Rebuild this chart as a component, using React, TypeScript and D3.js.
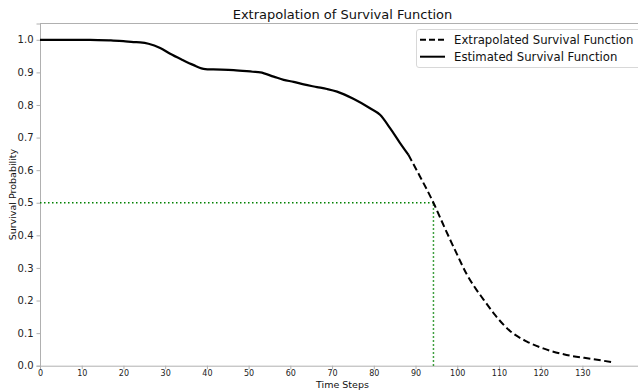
import React, { useEffect, useRef } from 'react';
import * as d3 from 'd3';

// Estimated (observed) survival curve
const estimatedTime = [0, 12, 17, 20, 22.4, 24, 26, 28.8, 31.2, 34, 36.7, 39.6, 41.5, 46.4, 51, 52.8, 56, 58.4, 60.8, 63.2, 66.4, 68.8, 71.2, 75.1, 79.1, 81.5, 83.9, 86.3, 88.3];
const estimatedSurvival = [1.0, 1.0, 0.998, 0.996, 0.993, 0.992, 0.988, 0.975, 0.957, 0.939, 0.923, 0.91, 0.909, 0.907, 0.902, 0.9, 0.887, 0.877, 0.871, 0.863, 0.855, 0.849, 0.841, 0.819, 0.79, 0.77, 0.729, 0.683, 0.647];

// Extrapolated survival curve
const extrapolatedTime = [88.3, 91.1, 94.3, 97.1, 99.9, 102.3, 104.5, 106.3, 109.1, 112.7, 116.7, 120.6, 126.2, 132.7, 137.5];
const extrapolatedSurvival = [0.647, 0.58, 0.5, 0.42, 0.343, 0.28, 0.235, 0.203, 0.155, 0.106, 0.074, 0.053, 0.033, 0.02, 0.01];

const medianTime = 94.3;
const medianSurvival = 0.5;

const xTicks = [0, 10, 20, 30, 40, 50, 60, 70, 80, 90, 100, 110, 120, 130];
const yTicks = [0, 0.1, 0.2, 0.3, 0.4, 0.5, 0.6, 0.7, 0.8, 0.9, 1.0];

const legendLabels = ['Extrapolated Survival Function', 'Estimated Survival Function'];

const WIDTH = 638;
const HEIGHT = 390;

export default function App() {
  const svgRef = useRef<SVGSVGElement>(null);

  useEffect(() => {
    if (!svgRef.current) return;
    const svg = d3.select(svgRef.current);
    svg.selectAll('*').remove();

    const font = 'DejaVu Sans, sans-serif';
    const spine = '#b0b0b0';

    const x = d3.scaleLinear().domain([0, 145]).range([40, 645]);
    const y = d3.scaleLinear().domain([0, 1.05]).range([365.7, 23.5]);

    svg.append('rect').attr('width', WIDTH).attr('height', HEIGHT).attr('fill', '#ffffff');

    // Axes
    const xAxis = svg
      .append('g')
      .attr('transform', `translate(0,${y(0)})`)
      .call(d3.axisBottom(x).tickValues(xTicks).tickSize(3.5).tickPadding(1.5).tickFormat(d3.format('d')));
    xAxis.selectAll('text').attr('font-family', font).attr('font-size', 8).attr('fill', '#222');

    const yAxis = svg
      .append('g')
      .attr('transform', `translate(${x(0)},0)`)
      .call(d3.axisLeft(y).tickValues(yTicks).tickSize(3.5).tickPadding(3).tickFormat(d3.format('.1f')));
    yAxis.selectAll('text').attr('font-family', font).attr('font-size', 10).attr('fill', '#222');

    [xAxis, yAxis].forEach(a => {
      a.select('.domain').attr('stroke', spine).attr('stroke-width', 1);
      a.selectAll('.tick line').attr('stroke', spine);
    });

    // top spine
    svg.append('line')
      .attr('x1', x(0)).attr('x2', WIDTH)
      .attr('y1', y(1.05)).attr('y2', y(1.05))
      .attr('stroke', spine).attr('stroke-width', 1);

    // Median guide lines
    const guide = svg.append('g')
      .attr('stroke', 'green')
      .attr('stroke-width', 1.5)
      .attr('stroke-dasharray', '1.5,2.5')
      .attr('fill', 'none');
    guide.append('line')
      .attr('x1', x(0)).attr('x2', x(medianTime))
      .attr('y1', y(medianSurvival)).attr('y2', y(medianSurvival));
    guide.append('line')
      .attr('x1', x(medianTime)).attr('x2', x(medianTime))
      .attr('y1', y(0)).attr('y2', y(medianSurvival));

    const line = d3.line<[number, number]>()
      .x(d => x(d[0]))
      .y(d => y(d[1]))
      .curve(d3.curveMonotoneX);

    const extrapolated = extrapolatedTime.map((t, i) => [t, extrapolatedSurvival[i]] as [number, number]);
    const estimated = estimatedTime.map((t, i) => [t, estimatedSurvival[i]] as [number, number]);

    svg.append('path')
      .datum(extrapolated)
      .attr('fill', 'none')
      .attr('stroke', 'black')
      .attr('stroke-width', 2)
      .attr('stroke-dasharray', '7,3.5')
      .attr('d', line);

    svg.append('path')
      .datum(estimated)
      .attr('fill', 'none')
      .attr('stroke', 'black')
      .attr('stroke-width', 2.2)
      .attr('d', line);

    // Title
    svg.append('text')
      .attr('x', (x(0) + x(145)) / 2)
      .attr('y', 19)
      .attr('text-anchor', 'middle')
      .attr('font-family', font)
      .attr('font-size', 13)
      .attr('fill', '#111')
      .text('Extrapolation of Survival Function');

    // Axis labels
    svg.append('text')
      .attr('x', (x(0) + x(145)) / 2)
      .attr('y', 387.5)
      .attr('text-anchor', 'middle')
      .attr('font-family', font)
      .attr('font-size', 9.5)
      .attr('fill', '#111')
      .text('Time Steps');

    svg.append('text')
      .attr('transform', `translate(16,${(y(0) + y(1.05)) / 2}) rotate(-90)`)
      .attr('text-anchor', 'middle')
      .attr('font-family', font)
      .attr('font-size', 9.5)
      .attr('fill', '#111')
      .text('Survival Probability');

    // Legend
    const legend = svg.append('g');
    legend.append('rect')
      .attr('x', 416.5).attr('y', 29.5)
      .attr('width', 240).attr('height', 38)
      .attr('rx', 2.5)
      .attr('fill', 'rgba(255,255,255,0.8)')
      .attr('stroke', '#d8d8d8')
      .attr('stroke-width', 1);
    legendLabels.forEach((label, i) => {
      const ly = 39.7 + i * 17;
      legend.append('line')
        .attr('x1', 420).attr('x2', 445)
        .attr('y1', ly).attr('y2', ly)
        .attr('stroke', 'black')
        .attr('stroke-width', 2)
        .attr('stroke-dasharray', i === 0 ? '6,3' : null);
      legend.append('text')
        .attr('x', 454)
        .attr('y', ly)
        .attr('dy', '0.35em')
        .attr('font-family', font)
        .attr('font-size', 11.7)
        .attr('fill', '#111')
        .text(label);
    });
  }, []);

  return (
    <svg
      ref={svgRef}
      width={WIDTH}
      height={HEIGHT}
      style={{ position: 'absolute', left: 0, top: 0, display: 'block' }}
    />
  );
}
